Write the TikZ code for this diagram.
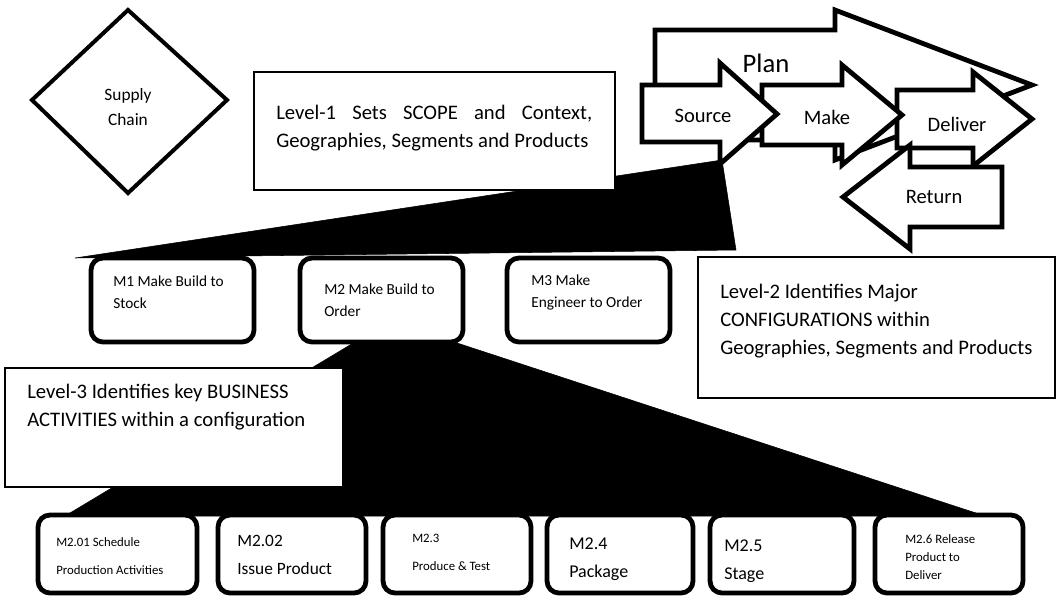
\documentclass[tikz,border=0pt]{standalone}
\usepackage{fontspec}
\setmainfont{Carlito}
\begin{document}
\begin{tikzpicture}[x=0.75pt,y=-0.75pt]
   \tikzset{flow/.style = {draw,line width=3.6pt,fill=white,line join=miter},
            wedge/.style = {fill=black},
            levelbox/.style = {draw,line width=1.1pt,fill=white},
            confbox/.style = {draw,line width=3.6pt,fill=white,rounded corners=9pt},
            big/.style = {inner sep=0pt,font=\fontsize{15.4}{18}\selectfont},
            note/.style = {inner sep=0pt,anchor=west,align=left,font=\fontsize{15.5}{21}\selectfont},
            conf/.style = {inner sep=0pt,anchor=west,align=left,font=\fontsize{11.5}{16.5}\selectfont},
            small/.style = {inner sep=0pt,anchor=west,align=left,font=\fontsize{9.6}{21}\selectfont},
            medium/.style = {inner sep=0pt,anchor=west,align=left,font=\fontsize{13}{20.5}\selectfont}}
   \useasboundingbox (0,0) rectangle (1064,597);

   % supply chain
   \draw[line width=3pt,line join=miter] (128,10) -- (227,100) -- (128,193) -- (32,100) -- cycle;
   \node[align=center,inner sep=0pt,font=\fontsize{13}{19}\selectfont] (sc) at (128,107) {Supply\\Chain};

   % level 1 processes
   \draw[flow] (655,140) -- (655,30) -- (835,30) -- (835,10) -- (1032,85) -- (835,160) -- (835,140) -- cycle;
   \node[big,font=\fontsize{20}{24}\selectfont] (plan) at (766,63) {Plan};
   \draw[flow] (897,90) -- (973,90) -- (973,72) -- (1032,119) -- (973,166) -- (973,148) -- (897,148) -- cycle;
   \draw[flow] (762,85) -- (842,85) -- (842,65) -- (902,115) -- (842,165) -- (842,145) -- (762,145) -- cycle;
   \draw[flow] (642,85) -- (720,85) -- (720,63) -- (777,114) -- (720,164) -- (720,142) -- (642,142) -- cycle;
   \draw[flow] (1002,167) -- (910,167) -- (910,145) -- (843,197) -- (910,249) -- (910,227) -- (1002,227) -- cycle;
   \node[big] (source) at (703,116) {Source};
   \node[big] (make) at (827,117) {Make};
   \node[big] (deliver) at (957,124) {Deliver};
   \node[big] (return) at (934,197) {Return};

   % zoom from level 1 to level 2
   \draw[wedge] (75,258) -- (722,160) -- (736,250) -- cycle;
   \draw[levelbox] (254,72) rectangle (615,190);
   \node[note] (lvl1) at (276,128.5) {\makebox[237pt][s]{Level-1 Sets SCOPE and Context,}\\Geographies, Segments and Products};

   % zoom from level 2 to level 3
   \draw[wedge] (390,321) -- (985,516) -- (65,516) -- cycle;

   \draw[confbox] (91,258) rectangle (254,342);
   \draw[confbox] (300,258) rectangle (463,342);
   \draw[confbox] (507,258) rectangle (670,342);
   \node[conf] (m1) at (113,292.5) {M1 Make Build to\\Stock};
   \node[conf] (m2) at (324,300) {M2 Make Build to\\Order};
   \node[conf] (m3) at (531,292.5) {M3 Make\\Engineer to Order};

   \draw[levelbox] (698,257) rectangle (1055,398);
   \node[note] (lvl2) at (720,321) {Level-2 Identifies Major\\CONFIGURATIONS within\\Geographies, Segments and Products};

   \draw[levelbox] (5,368) rectangle (343,487);
   \node[note] (lvl3) at (27,407.5) {Level-3 Identifies key BUSINESS\\ACTIVITIES within a configuration};

   % level 3 activities
   \draw[confbox] (38,515) rectangle (197,593);
   \draw[confbox] (218,515) rectangle (366,593);
   \draw[confbox] (383,515) rectangle (531,593);
   \draw[confbox] (547,515) rectangle (693,593);
   \draw[confbox] (710,515) rectangle (854,593);
   \draw[confbox] (875,515) rectangle (1023,593);
   \node[small] (a1) at (56,556) {M2.01 Schedule\\Production Activities};
   \node[medium] (a2) at (237,555) {M2.02\\Issue Product};
   \node[small] (a3) at (412,552.5) {M2.3\\Produce \& Test};
   \node[medium,font=\fontsize{13.5}{21}\selectfont] (a4) at (569,559) {M2.4\\Package};
   \node[medium,font=\fontsize{13.5}{21}\selectfont] (a5) at (724,561) {M2.5\\Stage};
   \node[small,font=\fontsize{9.6}{13.5}\selectfont] (a6) at (905,557) {M2.6 Release\\Product to\\Deliver};
\end{tikzpicture}
\end{document}
